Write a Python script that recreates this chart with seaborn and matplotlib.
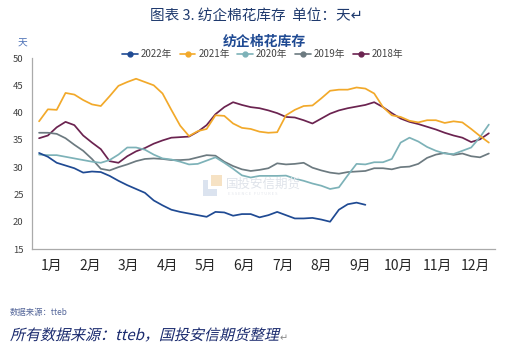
import numpy as np
import pandas as pd
import matplotlib
matplotlib.use("Agg")
import matplotlib.pyplot as plt
import seaborn as sns
from matplotlib.lines import Line2D
from matplotlib.textpath import TextPath
from matplotlib.patches import PathPatch, Rectangle
from matplotlib.font_manager import FontProperties
from matplotlib.transforms import Affine2D

# 周度数据（天），读自原图
y2022 = [32.6, 31.9, 30.8, 30.3, 29.8, 29.0, 29.2, 29.1, 28.4, 27.5,
         26.7, 26.0, 25.3, 23.9, 23.0, 22.2, 21.8, 21.5, 21.2, 20.9,
         21.8, 21.7, 21.1, 21.4, 21.4, 20.8, 21.2, 21.8, 21.2, 20.6,
         20.6, 20.7, 20.4, 20.0, 22.2, 23.2, 23.5, 23.1]
y2021 = [38.4, 40.6, 40.5, 43.6, 43.3, 42.3, 41.5, 41.2, 43.0, 44.9,
         45.6, 46.2, 45.6, 45.0, 43.5, 40.5, 37.6, 35.7, 36.6, 37.0,
         39.5, 39.4, 38.0, 37.2, 37.0, 36.5, 36.3, 36.4, 39.5, 40.5,
         41.2, 41.3, 42.6, 44.0, 44.2, 44.2, 44.6, 44.4, 43.5, 41.0,
         39.5, 39.2, 38.5, 38.2, 38.6, 38.6, 38.1, 38.4, 38.2, 37.0,
         35.7, 34.5]
y2020 = [32.3, 32.2, 32.2, 31.9, 31.6, 31.3, 31.0, 30.8, 31.3, 32.3,
         33.6, 33.6, 33.2, 32.3, 31.6, 31.4, 31.0, 30.5, 30.6, 31.2,
         31.8, 30.8, 29.7, 28.5, 28.1, 28.4, 28.4, 28.4, 28.45, 27.9,
         27.5, 27.0, 26.6, 26.0, 26.3, 28.5, 30.6, 30.5, 30.9, 30.9,
         31.5, 34.5, 35.4, 34.7, 33.7, 33.0, 32.5, 32.4, 33.0, 33.6,
         35.5, 37.8]
y2019 = [36.3, 36.3, 36.1, 35.3, 34.1, 33.0, 31.5, 29.7, 29.4, 30.0,
         30.5, 31.1, 31.5, 31.6, 31.5, 31.3, 31.3, 31.4, 31.8, 32.2,
         32.1, 31.0, 30.2, 29.6, 29.3, 29.5, 29.8, 30.7, 30.5, 30.6,
         30.8, 29.9, 29.4, 29.0, 28.8, 29.1, 29.2, 29.3, 29.8, 29.8,
         29.6, 30.0, 30.1, 30.6, 31.7, 32.3, 32.6, 32.25, 32.5, 32.0,
         31.8, 32.5]
y2018 = [35.3, 35.8, 37.3, 38.3, 37.7, 35.8, 34.5, 33.3, 31.1, 30.8,
         32.0, 32.9, 33.5, 34.3, 34.9, 35.4, 35.5, 35.6, 36.5, 37.7,
         39.7, 41.0, 41.9, 41.4, 41.0, 40.8, 40.4, 39.9, 39.2, 39.1,
         38.6, 38.0, 38.9, 39.8, 40.4, 40.8, 41.1, 41.4, 41.9, 41.0,
         39.9, 38.9, 38.3, 37.9, 37.4, 36.9, 36.3, 35.8, 35.4, 34.6,
         35.1, 36.2]

years = ["2022年", "2021年", "2020年", "2019年", "2018年"]
series = [y2022, y2021, y2020, y2019, y2018]
colors = ["#1f4a93", "#f2a92a", "#7db2b8", "#6c7a80", "#6b2350"]
month_labels = [f"{m}月" for m in range(1, 13)]

frames = []
for name, vals in zip(years, series):
    frames.append(pd.DataFrame({"week": np.arange(1, len(vals) + 1),
                                "days": vals, "year": name}))
df = pd.concat(frames, ignore_index=True)

sns.set_style("white")
plt.rcParams["font.family"] = ["Noto Sans CJK SC", "DejaVu Sans"]

fig = plt.figure(figsize=(5.05, 3.52), dpi=100)
ax = fig.add_axes([0.0634, 0.2926, 0.9168, 0.5426])

# 先画老年份，让 2022 在最上层
for name, col in list(zip(years, colors))[::-1]:
    sns.lineplot(data=df[df["year"] == name], x="week", y="days",
                 color=col, linewidth=1.25, ax=ax, legend=False)

ax.set_xlim(0.2, 52.7)
ax.set_ylim(15, 50)
ax.set_yticks(range(15, 51, 5))
week_per_month = 52.5 / 12
bounds = [0.2 + k * week_per_month for k in range(13)]
ax.set_xticks(bounds)
ax.set_xticklabels([])
ax.set_xticks([0.2 + (k + 0.5) * week_per_month for k in range(12)], minor=True)
ax.set_xticklabels(month_labels, minor=True)
ax.tick_params(axis="x", which="minor", length=0, pad=7)
ax.tick_params(axis="x", which="major", length=3, color="#999999", width=0.8)
ax.tick_params(axis="y", length=3, color="#999999", width=0.8, pad=3)
ax.tick_params(labelsize=6.8, labelcolor="#404040")
ax.set_xlabel("")
ax.set_ylabel("")
for s in ["top", "right"]:
    ax.spines[s].set_visible(False)
for s in ["left", "bottom"]:
    ax.spines[s].set_color("#aaaaaa")
    ax.spines[s].set_linewidth(0.9)

# 水印
fig.patches.append(Rectangle((203 / 505, 1 - 196 / 352), 14 / 505, 16 / 352,
                             transform=fig.transFigure, facecolor="#dbe3ef",
                             edgecolor="none", zorder=0))
fig.patches.append(Rectangle((208 / 505, 1 - 189 / 352), 9 / 505, 9 / 352,
                             transform=fig.transFigure, facecolor="white",
                             edgecolor="none", zorder=0))
fig.patches.append(Rectangle((211 / 505, 1 - 186 / 352), 11 / 505, 11 / 352,
                             transform=fig.transFigure, facecolor="#f6e2c4",
                             edgecolor="none", zorder=0))
fig.text(226 / 505, 1 - 184 / 352, "国投安信期货", fontsize=9, color="#dfe3ea",
         va="center", ha="left", zorder=0)
fig.text(228 / 505, 1 - 194 / 352, "E S S E N C E   F U T U R E S", fontsize=3,
         color="#e3e6ec", va="center", ha="left", zorder=0)

# 标题与图例
fig.text(0.508, 1 - 16 / 352, "图表 3. 纺企棉花库存  单位：天↵", fontsize=10.5,
         color="#1f3a6e", ha="center", va="center")
fig.text(0.523, 1 - 42 / 352, "纺企棉花库存", fontsize=10, fontweight="bold",
         color="#1f4a93", ha="center", va="center")
fig.text(22 / 505, 1 - 44 / 352, "天", fontsize=7, color="#4a6fb5",
         ha="center", va="center")

handles = [Line2D([0], [0], color=c, marker="o", markersize=3.5, linewidth=1.2)
           for c in colors]
fig.legend(handles, years, loc="center", bbox_to_anchor=(0.52, 1 - 54 / 352),
           ncol=5, frameon=False, fontsize=7, handlelength=1.6,
           handletextpad=0.3, columnspacing=0.8, labelcolor="#444444")

fig.text(10 / 505, 1 - 312 / 352, "数据来源：tteb", fontsize=6,
         color="#55679a", ha="left", va="center")

# 斜体脚注（CJK 字体没有斜体，用错切变换模拟）
fp = FontProperties(family=["Noto Sans CJK SC", "DejaVu Sans"])
tp = TextPath((0, 0), "所有数据来源：tteb，国投安信期货整理", size=10.8, prop=fp)
tr = Affine2D().skew_deg(14, 0).scale(1 / 72).translate(0.10, 0.12) + fig.dpi_scale_trans
fig.patches.append(PathPatch(tp, transform=tr, facecolor="#1a2a6e",
                             edgecolor="none"))
fig.text(280 / 505, 1 - 338 / 352, "↵", fontsize=7, color="#888888",
         ha="left", va="center", family="DejaVu Sans")

fig.savefig("out.png", dpi=100)
